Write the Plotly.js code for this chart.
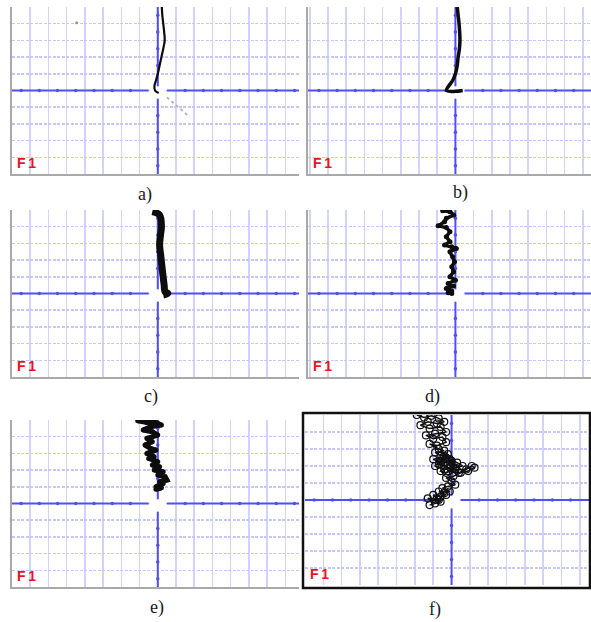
<!DOCTYPE html>
<html>
<head>
<meta charset="utf-8">
<script src="https://cdn.plot.ly/plotly-3.0.1.min.js"></script>
<style>html,body{margin:0;padding:0;background:#fff;}#chart{width:591px;height:622px;}</style>
</head>
<body>
<div id="chart"></div>
<script>
// ---- Data (in screen divisions, origin at crosshair) ----
const panelLabels = ["a)", "b)", "c)", "d)", "e)", "f)"];
const channelText = "F1";

const aX = [0.22, 0.25, 0.3, 0.35, 0.38, 0.3, 0.2, 0.1, 0.0, -0.1, -0.18, -0.15, 0.05];
const aY = [5.0, 4.5, 4.0, 3.5, 3.0, 2.5, 2.0, 1.5, 1.0, 0.6, 0.3, 0.0, -0.15];
const aTailX = [0.5, 1.75];
const aTailY = [-0.4, -1.6];
const aDotX = [-4.45];
const aDotY = [4.05];

const bX = [0.1, 0.15, 0.2, 0.25, 0.22, 0.15, 0.1, 0.0, -0.15, -0.35, -0.5, 0.0, 0.4];
const bY = [5.0, 4.5, 4.0, 3.0, 2.5, 2.0, 1.5, 1.0, 0.6, 0.3, 0.0, -0.05, 0.0];

const cX = [-0.3, 0.1, 0.2, 0.15, 0.1, 0.15, 0.2, 0.25, 0.3, 0.35, 0.4, 0.55, 0.3];
const cY = [4.9, 4.7, 4.0, 3.5, 2.9, 2.4, 1.9, 1.4, 0.95, 0.5, 0.1, 0.0, -0.1];

const dX = [-0.7, -0.3, -0.1, -0.5, -0.6, -0.95, -0.5, -0.3, -0.5, -0.3, -0.6, -0.2, 0.05, -0.3, -0.15, -0.05, -0.2, -0.1, -0.3, 0.0, -0.4, -0.1, -0.5, -0.2, -0.4, -0.2];
const dY = [4.95, 4.9, 4.7, 4.5, 4.3, 4.05, 3.95, 3.7, 3.4, 3.1, 2.9, 2.8, 2.7, 2.5, 2.2, 1.9, 1.6, 1.3, 1.0, 0.8, 0.6, 0.45, 0.3, 0.15, 0.05, 0.0];

const eX = [-1.1, -0.6, -0.2, 0.2, -0.4, -0.8, -0.3, 0.0, -0.6, -0.3, -0.7, -0.4, -0.1, -0.6, -0.2, -0.5, 0.0, -0.3, 0.1, -0.2, 0.3, 0.0, 0.4, 0.5, 0.1, 0.3, -0.1, 0.2, -0.1, 0.1];
const eY = [4.95, 4.85, 4.9, 4.7, 4.6, 4.4, 4.3, 4.1, 3.9, 3.7, 3.5, 3.3, 3.2, 3.0, 2.8, 2.7, 2.5, 2.3, 2.2, 2.0, 1.9, 1.7, 1.6, 1.4, 1.3, 1.2, 1.0, 0.95, 0.85, 0.9];

const fX = [-1.9, -1.5, -1.1, -0.7, -0.4, -0.8, -1.3, -1.7, -1.2, -0.6, -0.3, -0.9, -1.4, -1.0, -0.5, -0.3, -0.8, -1.2, -0.7, -0.4, -0.9, -0.6, -0.2, -0.5, -1.0, -0.6, -0.3, -0.7, -0.4, 0.0, -0.3, -0.6, -0.9, -0.4, 0.1, -0.2, -0.6, -0.3, 0.2, 0.0, -0.4, -0.1, 0.3, 0.6, 0.2, -0.2, 0.4, 0.8, 1.1, 1.25, 0.9, 0.5, 0.1, -0.3, 0.0, 0.2, -0.2, -0.5, -0.1, -0.4, -0.7, -0.3, -0.6, -1.0, -0.7, -1.3, -0.9, -1.2, -0.6, -0.8];
const fY = [5.0, 4.85, 4.95, 4.8, 4.6, 4.5, 4.6, 4.4, 4.2, 4.3, 4.0, 3.9, 3.8, 3.6, 3.7, 3.4, 3.2, 3.3, 3.0, 2.9, 2.8, 2.6, 2.7, 2.5, 2.4, 2.2, 2.4, 2.1, 2.0, 2.2, 2.5, 2.3, 2.0, 1.8, 1.9, 2.1, 1.7, 1.6, 1.8, 2.3, 2.6, 2.4, 2.2, 2.0, 1.9, 1.7, 1.6, 1.8, 2.0, 1.9, 1.7, 1.6, 1.4, 1.3, 1.1, 0.9, 0.8, 0.7, 0.5, 0.4, 0.5, 0.3, 0.2, 0.3, 0.0, 0.1, -0.2, -0.3, -0.1, 0.1];

// ---- Layout helpers ----
const W = 591, H = 622;
const px = p => p / W;
const py = p => 1 - p / H;

const panels = [
  {x: aX, y: aY, xd: [12, 299], yd: [7, 174], xr: [-8, 7.75], lw: 2.2, lab: [145, 194]},
  {x: bX, y: bY, xd: [308, 591], yd: [7, 174], xr: [-8.1, 7.45], lw: 3.5, lab: [460, 192]},
  {x: cX, y: cY, xd: [12, 299], yd: [210, 377], xr: [-8, 7.75], lw: 7, lab: [151, 397]},
  {x: dX, y: dY, xd: [308, 591], yd: [210, 377], xr: [-8.1, 7.45], lw: 3.5, lab: [432, 397], blob: 5},
  {x: eX, y: eY, xd: [12, 299], yd: [420, 587], xr: [-8, 7.75], lw: 5, lab: [157, 607], blob: 5},
  {x: fX, y: fY, xd: [305, 589], yd: [415, 585], xr: [-8, 7.5], lw: 1.2, lab: [435, 609], framed: true}
];

const AX = '#5050f0';
const traces = [];
const shapes = [];
const annotations = [];
const layout = {
  width: W, height: H,
  margin: {l: 0, r: 0, t: 0, b: 0},
  paper_bgcolor: '#ffffff', plot_bgcolor: '#ffffff',
  showlegend: false
};

panels.forEach((p, i) => {
  const n = i + 1;
  const xa = 'x' + (n === 1 ? '' : n), ya = 'y' + (n === 1 ? '' : n);
  const xk = 'xaxis' + (n === 1 ? '' : n), yk = 'yaxis' + (n === 1 ? '' : n);
  const common = {
    showgrid: true,
    dtick: 1, tick0: 0, zeroline: false, showticklabels: false, ticks: '',
    showline: !p.framed, linecolor: '#a9a9a9', linewidth: 2, fixedrange: true
  };
  layout[xk] = Object.assign({}, common, {gridcolor: '#d2d2ff', gridwidth: 1.6, griddash: 'solid',
    domain: [px(p.xd[0]), px(p.xd[1])], range: p.xr, anchor: ya});
  layout[yk] = Object.assign({}, common, {gridcolor: '#c6c6fc', gridwidth: 1.5, griddash: '3px,1.5px',
    domain: [py(p.yd[1]), py(p.yd[0])], range: [-5, 5], anchor: xa});

  // white patch at the crosshair centre (gap in the axes)
  shapes.push({type: 'rect', xref: xa, yref: ya, x0: -0.45, x1: 0.45, y0: -0.45, y1: 0.3,
    fillcolor: '#ffffff', line: {width: 0}, layer: 'between'});
  // blue centre axes with a gap at origin
  const axLine = {color: AX, width: 2};
  shapes.push({type: 'line', xref: xa, yref: ya, x0: p.xr[0], x1: -0.5, y0: 0, y1: 0, line: axLine, layer: 'between'});
  shapes.push({type: 'line', xref: xa, yref: ya, x0: 0.5, x1: p.xr[1], y0: 0, y1: 0, line: axLine, layer: 'between'});
  shapes.push({type: 'line', xref: xa, yref: ya, x0: 0, x1: 0, y0: 0.25, y1: 5, line: axLine, layer: 'between'});
  shapes.push({type: 'line', xref: xa, yref: ya, x0: 0, x1: 0, y0: -0.5, y1: -5, line: axLine, layer: 'between'});

  // tick dots at half divisions along the centre axes
  const dx = [], dy = [];
  for (let k = Math.ceil(p.xr[0] - 0.5) + 0.5; k < p.xr[1]; k += 1) {
    if (Math.abs(k) > 0.6) { dx.push(k); dy.push(0); }
  }
  for (let k = -4.5; k <= 4.5; k += 1) {
    if (Math.abs(k) > 0.6) { dx.push(0); dy.push(k); }
  }
  traces.push({x: dx, y: dy, xaxis: xa, yaxis: ya, mode: 'markers', type: 'scatter',
    marker: {symbol: 'circle', size: 3.5, color: AX}, hoverinfo: 'skip', cliponaxis: false});

  // the trace itself
  if (p.framed) {
    traces.push({x: p.x, y: p.y, xaxis: xa, yaxis: ya, type: 'scatter', mode: 'lines+markers',
      line: {color: '#111', width: 1.5},
      marker: {symbol: 'circle-open', size: 7, color: '#111', line: {width: 1.2}}, hoverinfo: 'skip'});
  } else {
    traces.push({x: p.x, y: p.y, xaxis: xa, yaxis: ya, type: 'scatter', mode: p.blob ? 'lines+markers' : 'lines',
      line: {color: '#0d0d0d', width: p.lw, shape: p.blob ? 'linear' : 'spline'},
      marker: {symbol: 'circle', size: p.blob || 0, color: '#0d0d0d'}, hoverinfo: 'skip'});
  }
  if (i === 0) {
    traces.push({x: aTailX, y: aTailY, xaxis: xa, yaxis: ya, type: 'scatter', mode: 'lines',
      line: {color: '#b8b8b8', width: 2, dash: 'dot'}, hoverinfo: 'skip'});
    traces.push({x: aDotX, y: aDotY, xaxis: xa, yaxis: ya, type: 'scatter', mode: 'markers',
      marker: {color: '#999', size: 3}, hoverinfo: 'skip'});
  }

  // F1 label
  annotations.push({xref: 'paper', yref: 'paper', x: px(p.xd[0] + 3), y: py(p.yd[1] - 1),
    xanchor: 'left', yanchor: 'bottom', text: '<b>F\u2009' + channelText.slice(1) + '</b>', showarrow: false,
    font: {family: 'Liberation Sans, Arial', size: 14, color: '#e8141e'}});
  // panel caption
  annotations.push({xref: 'paper', yref: 'paper', x: px(p.lab[0]), y: py(p.lab[1]),
    xanchor: 'center', yanchor: 'middle', text: panelLabels[i], showarrow: false,
    font: {family: 'Liberation Serif, Times New Roman, serif', size: 18, color: '#1a1a1a'}});

  if (p.framed) {
    shapes.push({type: 'rect', xref: 'paper', yref: 'paper', x0: px(303), x1: px(590), y0: py(588), y1: py(413),
      line: {color: '#111', width: 2.5}, fillcolor: 'rgba(0,0,0,0)', layer: 'above'});
  }
});

layout.shapes = shapes;
layout.annotations = annotations;
Plotly.newPlot('chart', traces, layout, {displayModeBar: false, staticPlot: true});
</script>
</body>
</html>
